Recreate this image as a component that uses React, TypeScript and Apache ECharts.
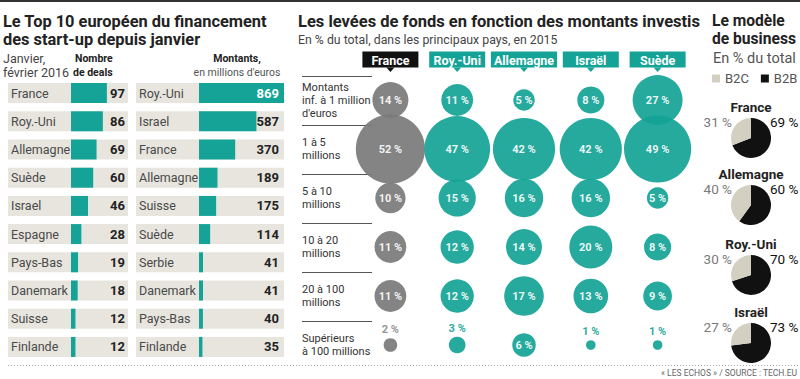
import React, { useEffect, useRef } from 'react';
import * as echarts from 'echarts';

// ---- Data ----
const dealCountries = ['France', 'Roy.-Uni', 'Allemagne', 'Suède', 'Israel', 'Espagne', 'Pays-Bas', 'Danemark', 'Suisse', 'Finlande'];
const dealValues = [97, 86, 69, 60, 46, 28, 19, 18, 12, 12];
const amountCountries = ['Roy.-Uni', 'Israel', 'France', 'Allemagne', 'Suisse', 'Suède', 'Serbie', 'Danemark', 'Pays-Bas', 'Finlande'];
const amountValues = [869, 587, 370, 189, 175, 114, 41, 41, 40, 35];

const bubbleCountries = ['France', 'Roy.-Uni', 'Allemagne', 'Israël', 'Suède'];
const bubbleRanges = [
  "Montants\ninf. à 1 million\nd'euros",
  '1 à 5\nmillions',
  '5 à 10\nmillions',
  '10 à 20\nmillions',
  '20 à 100\nmillions',
  'Supérieurs\nà 100 millions',
];
const bubbleFrance = [14, 52, 10, 11, 11, 2];
const bubbleRoyUni = [11, 47, 15, 12, 12, 3];
const bubbleAllemagne = [5, 42, 16, 14, 17, 6];
const bubbleIsrael = [8, 42, 16, 20, 13, 1];
const bubbleSuede = [27, 49, 5, 8, 9, 1];

const pieCountries = ['France', 'Allemagne', 'Roy.-Uni', 'Israël'];
const pieB2C = [31, 40, 30, 27];
const pieB2B = [69, 60, 70, 73];

// ---- Styles / layout ----
const FONT = 'Roboto';
const TEAL = '#14a396';
const GREY_BUBBLE = '#7a7a7a';
const ROW_BG = '#e7e5de';
const TABLE_TOP = 79;
const TABLE_H = 282;
const BUB_LEFT = 357;
const BUB_TOP = 75.5;
const BUB_W = 334;
const BUB_H = 294;
const PIE_X = 751;
const PIE_Y = [138, 205, 275, 343];
const PIE_R = 20;

function txt(text: string, x: number, y: number, size: number, opts: any = {}) {
  return {
    type: 'text',
    x,
    y,
    silent: true,
    style: {
      text,
      fontSize: size,
      fontFamily: FONT,
      fontWeight: opts.bold ? 'bold' : 'normal',
      fill: opts.color || '#222',
      textAlign: opts.align || 'left',
      textVerticalAlign: 'middle',
    },
  };
}

export default function App() {
  const ref = useRef<HTMLDivElement>(null);

  useEffect(() => {
    if (!ref.current) return;
    const chart = echarts.init(ref.current, null, { renderer: 'svg' });

    const bubbleRows = [bubbleFrance, bubbleRoyUni, bubbleAllemagne, bubbleIsrael, bubbleSuede];
    const bubbleData: any[] = [];
    bubbleRows.forEach((vals, ci) =>
      vals.forEach((v, ri) => {
        const color = ci === 0 ? GREY_BUBBLE : TEAL;
        const small = v < 4;
        const item: any = { value: [ci, ri, v], itemStyle: { color, opacity: 0.92 } };
        if (small) item.label = { position: 'top', distance: 3, color: ci === 0 ? '#8a8a8a' : TEAL };
        bubbleData.push(item);
      })
    );

    const bandW = BUB_W / bubbleCountries.length;
    const bandH = BUB_H / bubbleRanges.length;
    const graphics: any[] = [
      { type: 'rect', shape: { x: 0, y: 0, width: 800, height: 2 }, style: { fill: '#333' }, silent: true },
      { type: 'line', shape: { x1: 8, y1: 365.5, x2: 800, y2: 365.5 }, style: { stroke: '#aaa', lineWidth: 1, lineDash: [1, 2] }, silent: true },
      txt('Le Top 10 européen du financement', 3, 21, 16.4, { bold: true }),
      txt('des start-up depuis janvier', 3, 39, 16.4, { bold: true }),
      txt('Janvier,', 3, 58, 12.5, { color: '#444' }),
      txt('février 2016', 3, 72, 12.5, { color: '#444' }),
      txt('Nombre', 75, 58, 10.5, { bold: true }),
      txt('de deals', 73, 72, 10.5, { bold: true }),
      txt('Montants,', 237, 58, 10.5, { bold: true, align: 'center' }),
      txt("en millions d'euros", 237, 72, 10.5, { color: '#555', align: 'center' }),
      txt('Les levées de fonds en fonction des montants investis', 298, 21, 16.5, { bold: true }),
      txt('En % du total, dans les principaux pays, en 2015', 298, 40, 12.3, { color: '#444' }),
      txt('Le modèle', 712, 21, 15.6, { bold: true }),
      txt('de business', 712, 39, 15.6, { bold: true }),
      txt('En % du total', 713, 58, 14.5, { color: '#555' }),
      txt('« LES ECHOS » / SOURCE : TECH.EU', 797, 373, 8.5, { color: '#666', align: 'right' }),
    ];
    pieCountries.forEach((c, i) => graphics.push(txt(c, PIE_X, PIE_Y[i] - 31, 13.5, { bold: true, align: 'center' })));
    for (let i = 0; i < bubbleRanges.length; i++) {
      const y = Math.round(BUB_TOP + i * bandH) + 0.5;
      graphics.push({ type: 'line', shape: { x1: 302, y1: y, x2: 372, y2: y }, style: { stroke: '#555', lineWidth: 1 }, silent: true, z: -1 });
    }
    bubbleCountries.forEach((c, i) => {
      const cx = BUB_LEFT + (i + 0.5) * bandW;
      graphics.push({
        type: 'polygon',
        shape: { points: [[cx - 4, 67.5], [cx + 4, 67.5], [cx, 72]] },
        style: { fill: i === 0 ? '#111' : TEAL },
        silent: true,
      });
    });

    const tableCatAxis = (grid: number, data: string[]) => ({
      type: 'category',
      gridIndex: grid,
      data,
      inverse: true,
      axisLine: { show: false },
      axisTick: { show: false },
      axisLabel: {
        align: 'left',
        margin: 63,
        width: 60,
        height: 20,
        lineHeight: 20,
        padding: [0, 0, 0, 3],
        backgroundColor: ROW_BG,
        color: '#4a4a4a',
        fontSize: 12.5,
        fontFamily: FONT,
      },
    });
    const tableValAxis = (grid: number, data: string[], values: number[], max: number, margin: number) => ({
      type: 'category',
      gridIndex: grid,
      position: 'right',
      data,
      inverse: true,
      z: 10,
      axisLine: { show: false },
      axisTick: { show: false },
      axisLabel: {
        inside: true,
        align: 'right',
        margin,
        formatter: (_v: string, i: number) => String(values[i]),
        fontWeight: 'bold',
        fontSize: 13,
        fontFamily: FONT,
        color: (_v: string, i: number) => (values[i] / max > 0.85 ? '#fff' : '#222'),
      },
    });

    const option: any = {
      animation: false,
      textStyle: { fontFamily: FONT },
      grid: [
        { left: 71, top: TABLE_TOP, width: 57, height: TABLE_H },
        { left: 199, top: TABLE_TOP, width: 85, height: TABLE_H },
        { left: BUB_LEFT, top: BUB_TOP, width: BUB_W, height: BUB_H },
      ],
      xAxis: [
        { type: 'value', gridIndex: 0, min: 0, max: 154, show: false },
        { type: 'value', gridIndex: 1, min: 0, max: 869, show: false },
        {
          type: 'category',
          gridIndex: 2,
          position: 'top',
          data: bubbleCountries,
          axisLine: { show: false },
          axisTick: { show: false },
          axisLabel: {
            margin: 8,
            interval: 0,
            formatter: (v: string, i: number) => {
              const key = (i === 0 ? 'k' : 't') + (v.length > 8 ? 'w' : '');
              return '{' + key + '|' + v + '}';
            },
            rich: {
              k: { backgroundColor: '#111', color: '#fff', fontWeight: 'bold', fontSize: 12.5, width: 46, align: 'center', padding: [2, 5, 1, 5], fontFamily: FONT },
              t: { backgroundColor: TEAL, color: '#fff', fontWeight: 'bold', fontSize: 12.5, width: 46, align: 'center', padding: [2, 5, 1, 5], fontFamily: FONT },
              tw: { backgroundColor: TEAL, color: '#fff', fontWeight: 'bold', fontSize: 12.5, align: 'center', padding: [2, 3, 1, 3], fontFamily: FONT },
            },
          },
        },
      ],
      yAxis: [
        tableCatAxis(0, dealCountries),
        tableValAxis(0, dealCountries, dealValues, 154, 3),
        tableCatAxis(1, amountCountries),
        tableValAxis(1, amountCountries, amountValues, 869, 5),
        {
          type: 'category',
          gridIndex: 2,
          data: bubbleRanges,
          inverse: true,
          axisLine: { show: false },
          axisTick: { show: false },
          axisLabel: { align: 'left', margin: 55, fontSize: 11, lineHeight: 13, color: '#333', fontFamily: FONT, interval: 0 },
        },
      ],
      legend: {
        data: ['B2C', 'B2B'],
        left: 712,
        top: 72,
        padding: 0,
        itemWidth: 8,
        itemHeight: 8,
        itemGap: 12,
        icon: 'rect',
        selectedMode: false,
        textStyle: { fontSize: 13, color: '#555', fontFamily: FONT },
      },
      graphic: graphics,
      series: [
        {
          type: 'bar',
          xAxisIndex: 0,
          yAxisIndex: 0,
          data: dealValues,
          barWidth: 20,
          itemStyle: { color: TEAL },
          showBackground: true,
          backgroundStyle: { color: ROW_BG },
          silent: true,
        },
        {
          type: 'bar',
          xAxisIndex: 1,
          yAxisIndex: 2,
          data: amountValues,
          barWidth: 20,
          itemStyle: { color: TEAL },
          showBackground: true,
          backgroundStyle: { color: ROW_BG },
          silent: true,
        },
        {
          type: 'scatter',
          xAxisIndex: 2,
          yAxisIndex: 4,
          data: bubbleData,
          symbolSize: (d: number[]) => 9.6 * Math.sqrt(d[2]),
          silent: true,
          label: {
            show: true,
            position: 'inside',
            formatter: (p: any) => p.value[2] + ' %',
            color: '#fff',
            fontWeight: 'bold',
            fontSize: 11,
            fontFamily: FONT,
          },
        },
        ...pieCountries.map((c, i) => {
          const cy = PIE_Y[i];
          return {
            type: 'pie',
            name: c,
            center: [PIE_X, cy],
            radius: PIE_R,
            startAngle: 90,
            clockwise: true,
            silent: true,
            avoidLabelOverlap: false,
            data: [
              { name: 'B2B', value: pieB2B[i], itemStyle: { color: '#111' }, label: { color: '#111' } },
              { name: 'B2C', value: pieB2C[i], itemStyle: { color: '#d3d0c2' }, label: { color: '#7a7a7a' } },
            ],
            label: { show: true, position: 'inside', formatter: '{c} %', fontSize: 13.5, fontFamily: FONT },
            labelLine: { show: false },
            labelLayout: (p: any) =>
              p.dataIndex === 0
                ? { x: PIE_X + 19, y: cy - 16, align: 'left', verticalAlign: 'middle' }
                : { x: PIE_X - 19, y: cy - 16, align: 'right', verticalAlign: 'middle' },
          };
        }),
      ],
    };

    chart.setOption(option);
    return () => chart.dispose();
  }, []);

  return <div ref={ref} style={{ position: 'fixed', left: 0, top: 0, width: 800, height: 379, background: '#fff' }} />;
}
